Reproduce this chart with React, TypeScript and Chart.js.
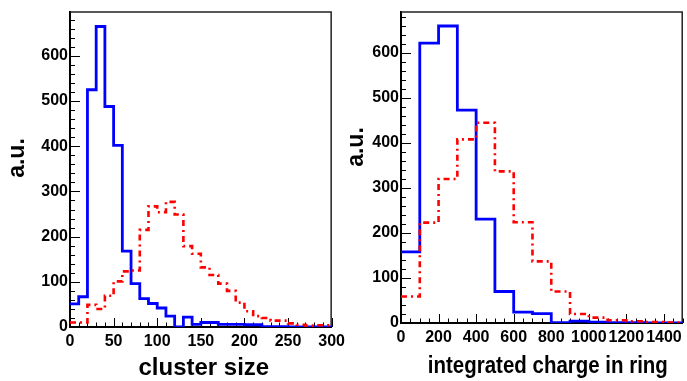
import React, { useEffect, useRef } from "react";
import { Chart, registerables } from "chart.js";

Chart.register(...registerables);

// ---- data ----
const clusterEdges = [0, 10, 20, 30, 40, 50, 60, 70, 80, 90, 100, 110, 120, 130, 140, 150, 160, 170, 180, 190, 200, 210, 220, 230, 240, 250, 260, 270, 280, 290, 300];
const clusterBlue = [51, 67, 525, 665, 488, 402, 168, 96, 63, 52, 42, 24, 0, 22, 6, 10, 10, 6, 6, 6, 5, 5, 1, 1, 1, 0, 0, 0, 0, 0];
const clusterRed = [10, 10, 49, 40, 69, 101, 123, 125, 215, 267, 254, 277, 249, 179, 162, 132, 115, 96, 80, 54, 35, 24, 20, 14, 14, 8, 5, 3, 4, 4];
const clusterXTicks = [0, 50, 100, 150, 200, 250, 300];

const chargeEdges = [0, 100, 200, 300, 400, 500, 600, 700, 800, 900, 1000, 1100, 1200, 1300, 1400, 1500];
const chargeBlue = [158, 622, 660, 473, 231, 70, 24, 21, 1, 4, 2, 1, 1, 0, 0];
const chargeRed = [59, 223, 320, 408, 445, 337, 224, 137, 70, 20, 12, 6, 4, 2, 1];
const chargeXTicks = [0, 200, 400, 600, 800, 1000, 1200, 1400];

const yTicks = [0, 100, 200, 300, 400, 500, 600];

const yTitle = "a.u.";
const clusterTitle = "cluster size";
const chargeTitle = "integrated charge in ring";

const SANS = '"Liberation Sans", Arial, Helvetica, sans-serif';

function steps(edges: number[], values: number[]) {
  return edges.map((e, i) => ({ x: e, y: values[Math.min(i, values.length - 1)] }));
}

type Spec = {
  edges: number[];
  blue: number[];
  red: number[];
  xTicks: number[];
  xMax: number;
  yMax: number;
  xMajor: number;
  xMinor: number;
  padTop: number;
  padRight: number;
  yWidth: number;
  xHeight: number;
  xTitle: string;
  xTitleSize: number;
  xTitleSquash: number;
  xTitleDx: number;
  xTitleDy: number;
  yTitleX: number;
  yTitleY: number;
};

function makeChart(canvas: HTMLCanvasElement, s: Spec) {
  const rootStyle = {
    id: "rootStyle",
    beforeDatasetsDraw(chart: any) {
      const ctx = chart.ctx;
      const a = chart.chartArea;
      const xs = chart.scales.x;
      const ys = chart.scales.y;
      ctx.save();
      ctx.strokeStyle = "#000";
      ctx.lineWidth = 1;
      ctx.beginPath();
      for (let v = 0; v <= s.xMax + 1e-6; v += s.xMinor) {
        const px = Math.round(xs.getPixelForValue(v)) + 0.5;
        const major = Math.abs(v / s.xMajor - Math.round(v / s.xMajor)) < 1e-6;
        ctx.moveTo(px, a.bottom);
        ctx.lineTo(px, a.bottom - (major ? 9 : 4.5));
      }
      for (let v = 0; v <= s.yMax + 1e-6; v += 20) {
        const py = Math.round(ys.getPixelForValue(v)) + 0.5;
        const major = v % 100 === 0;
        ctx.moveTo(a.left, py);
        ctx.lineTo(a.left + (major ? 10 : 5), py);
      }
      ctx.stroke();
      ctx.lineWidth = 1.5;
      ctx.strokeStyle = "#222";
      ctx.beginPath();
      ctx.moveTo(a.left, a.top + 0.5);
      ctx.lineTo(a.right - 0.5, a.top + 0.5);
      ctx.lineTo(a.right - 0.5, a.bottom);
      ctx.stroke();
      ctx.restore();
    },
    afterDraw(chart: any) {
      const ctx = chart.ctx;
      const a = chart.chartArea;
      ctx.save();
      ctx.fillStyle = "#000";
      ctx.textAlign = "center";
      ctx.textBaseline = "alphabetic";
      ctx.save();
      ctx.translate((a.left + a.right) / 2 + s.xTitleDx, a.bottom + s.xTitleDy);
      ctx.scale(s.xTitleSquash, 1);
      ctx.font = `bold ${s.xTitleSize}px ${SANS}`;
      ctx.fillText(s.xTitle, 0, 0);
      ctx.restore();
      ctx.translate(s.yTitleX, s.yTitleY);
      ctx.rotate(-Math.PI / 2);
      ctx.font = `bold 23px ${SANS}`;
      ctx.fillText(yTitle, 0, 0);
      ctx.restore();
    },
  };

  const tickFont = { family: SANS, weight: "bold" as const, size: 16 };

  return new Chart(canvas, {
    type: "line",
    data: {
      datasets: [
        {
          label: "red",
          data: steps(s.edges, s.red),
          borderColor: "#ff0000",
          borderWidth: 2.6,
          borderDash: [6, 4, 2, 4],
          stepped: true,
          pointRadius: 0,
          fill: false,
          order: 0,
        },
        {
          label: "blue",
          data: steps(s.edges, s.blue),
          borderColor: "#0000ff",
          borderWidth: 2.8,
          stepped: true,
          pointRadius: 0,
          fill: false,
          order: 1,
        },
      ],
    },
    options: {
      animation: false,
      responsive: false,
      maintainAspectRatio: false,
      layout: { padding: { top: s.padTop, right: s.padRight, left: 0, bottom: 0 } },
      plugins: { legend: { display: false }, tooltip: { enabled: false } },
      scales: {
        x: {
          type: "linear",
          min: 0,
          max: s.xMax,
          afterBuildTicks(scale: any) {
            scale.ticks = s.xTicks.map((v) => ({ value: v }));
          },
          afterFit(scale: any) {
            scale.height = s.xHeight;
          },
          grid: { display: false, drawTicks: false },
          border: { display: true, color: "#000", width: 2 },
          ticks: {
            autoSkip: false,
            maxRotation: 0,
            padding: 5,
            color: "#000",
            font: tickFont,
            callback: (v: any) => String(v),
          },
        },
        y: {
          type: "linear",
          min: 0,
          max: s.yMax,
          afterBuildTicks(scale: any) {
            scale.ticks = yTicks.map((v) => ({ value: v }));
          },
          afterFit(scale: any) {
            scale.width = s.yWidth;
          },
          grid: { display: false, drawTicks: false },
          border: { display: true, color: "#000", width: 2 },
          ticks: {
            autoSkip: false,
            padding: 2,
            color: "#000",
            font: tickFont,
            callback: (v: any) => String(v),
          },
        },
      },
    } as any,
    plugins: [rootStyle],
  });
}

export default function App() {
  const leftRef = useRef<HTMLCanvasElement>(null);
  const rightRef = useRef<HTMLCanvasElement>(null);

  useEffect(() => {
    const c1 = makeChart(leftRef.current!, {
      edges: clusterEdges,
      blue: clusterBlue,
      red: clusterRed,
      xTicks: clusterXTicks,
      xMax: 300,
      yMax: 698,
      xMajor: 50,
      xMinor: 10,
      padTop: 5,
      padRight: 18,
      yWidth: 70,
      xHeight: 54,
      xTitle: clusterTitle,
      xTitleSize: 24,
      xTitleSquash: 1,
      xTitleDx: 3,
      xTitleDy: 48,
      yTitleX: 23.5,
      yTitleY: 158,
    });
    const c2 = makeChart(rightRef.current!, {
      edges: chargeEdges,
      blue: chargeBlue,
      red: chargeRed,
      xTicks: chargeXTicks,
      xMax: 1500,
      yMax: 692,
      xMajor: 200,
      xMinor: 50,
      padTop: 7,
      padRight: 4,
      yWidth: 61,
      xHeight: 58,
      xTitle: chargeTitle,
      xTitleSize: 24,
      xTitleSquash: 0.853,
      xTitleDx: 6,
      xTitleDy: 50,
      yTitleX: 23,
      yTitleY: 147,
    });
    return () => {
      c1.destroy();
      c2.destroy();
    };
  }, []);

  return (
    <div style={{ position: "fixed", left: 0, top: 0, width: 687, height: 381, background: "#fff", overflow: "hidden" }}>
      <canvas ref={leftRef} width={350} height={381} style={{ position: "absolute", left: 0, top: 0, width: 350, height: 381 }} />
      <canvas ref={rightRef} width={347} height={381} style={{ position: "absolute", left: 340, top: 0, width: 347, height: 381 }} />
    </div>
  );
}
